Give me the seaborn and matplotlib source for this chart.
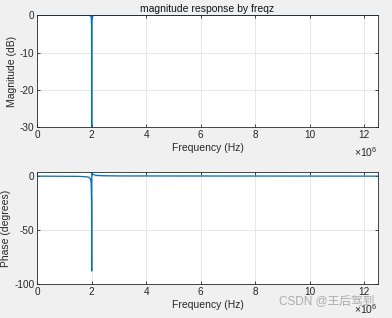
import matplotlib
matplotlib.use("Agg")
import matplotlib.pyplot as plt
import matplotlib.ticker as mticker
import seaborn as sns
import pandas as pd

# Magnitude response
mag_freq = [0.0, 1.90e6, 1.98e6, 1.995e6, 2.0e6, 2.005e6, 2.02e6, 2.10e6, 12.5e6]
mag_db = [0.0, 0.0, -0.3, -3.0, -40.0, -3.0, -0.3, 0.0, 0.0]

# Phase response
ph_freq = [0.0, 1.50e6, 1.80e6, 1.90e6, 1.95e6, 1.98e6, 1.995e6, 2.0e6, 2.002e6,
           2.01e6, 2.05e6, 2.15e6, 2.40e6, 3.0e6, 12.5e6]
ph_deg = [0.0, -0.2, -0.6, -1.2, -2.5, -6.0, -25.0, -88.0, 3.0,
          2.5, 1.5, 0.8, 0.4, 0.2, 0.0]

title = "magnitude response by freqz"
xlabel = "Frequency (Hz)"
ylabel_mag = "Magnitude (dB)"
ylabel_ph = "Phase (degrees)"
xticks = [0, 2e6, 4e6, 6e6, 8e6, 10e6, 12e6]
x_exponent_label = r"$\times10^{6}$"

sns.set_theme(style="whitegrid")
plt.rcParams['font.family'] = ['Liberation Sans', 'Noto Sans CJK SC', 'DejaVu Sans']
plt.rcParams['axes.unicode_minus'] = False
plt.rcParams['mathtext.fontset'] = 'custom'
plt.rcParams['mathtext.rm'] = 'Liberation Sans'

line_color = "#0072BD"
edge = "#262626"
fig = plt.figure(figsize=(3.92, 3.18), dpi=100, facecolor="#f0f0f0")
ax1 = fig.add_axes([0.095, 0.600, 0.8685, 0.352])
ax2 = fig.add_axes([0.095, 0.107, 0.8685, 0.351])

df_mag = pd.DataFrame({"f": mag_freq, "v": mag_db})
df_ph = pd.DataFrame({"f": ph_freq, "v": ph_deg})
sns.lineplot(data=df_mag, x="f", y="v", ax=ax1, color=line_color, linewidth=0.9)
sns.lineplot(data=df_ph, x="f", y="v", ax=ax2, color=line_color, linewidth=0.9)

ax1.set_ylim(-30, 0)
ax1.set_yticks([-30, -20, -10, 0])
ax2.set_ylim(-100, 3.5)
ax2.set_yticks([-100, -50, 0])

for ax, yl in [(ax1, ylabel_mag), (ax2, ylabel_ph)]:
    ax.set_facecolor("white")
    ax.set_xlim(0, 12.5e6)
    ax.set_xticks(xticks)
    ax.xaxis.set_major_formatter(mticker.FuncFormatter(lambda v, p: f"{v/1e6:g}"))
    ax.set_xlabel(xlabel, fontsize=7.5, color=edge, labelpad=2)
    ax.set_ylabel(yl, fontsize=7.5, color=edge, labelpad=2)
    ax.tick_params(axis="both", which="both", direction="in", length=2.5, width=0.6,
                   labelsize=7.2, colors=edge, top=True, right=True, pad=2,
                   bottom=True, left=True)
    ax.grid(True, color="#e3e3e3", linewidth=0.6)
    for s in ax.spines.values():
        s.set_visible(True)
        s.set_color(edge)
        s.set_linewidth(0.6)
    ax.text(1.0, -0.225, x_exponent_label, transform=ax.transAxes, ha="right",
            va="center", fontsize=7.5, color=edge)

ax1.set_title(title, fontsize=7.5, color="#111111", pad=2)

fig.text(0.955, 0.035, "CSDN @王后驾到", ha="right", va="bottom", fontsize=8.5,
         color="#9a9a9a", alpha=0.8)

fig.savefig("out.png", dpi=100, facecolor=fig.get_facecolor())
